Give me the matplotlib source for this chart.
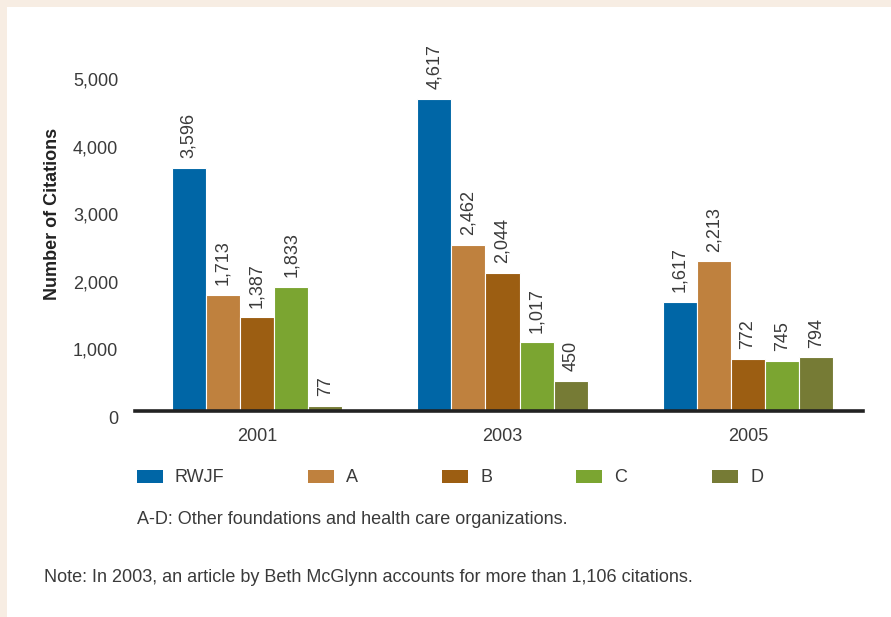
import matplotlib
matplotlib.use("Agg")
import matplotlib.pyplot as plt
from matplotlib.patches import Rectangle
from matplotlib.transforms import ScaledTranslation
import numpy as np

plt.rcParams['font.family'] = ['Liberation Sans', 'DejaVu Sans']

years = ["2001", "2003", "2005"]
series = ["RWJF", "A", "B", "C", "D"]
values = {
    "RWJF": [3596, 4617, 1617],
    "A": [1713, 2462, 2213],
    "B": [1387, 2044, 772],
    "C": [1833, 1017, 745],
    "D": [77, 450, 794],
}
colors = ["#0066A6", "#BF813E", "#9C5E12", "#7BA531", "#767B35"]
yticks = [0, 1000, 2000, 3000, 4000, 5000]
footnote1 = "A-D: Other foundations and health care organizations."
footnote2 = "Note: In 2003, an article by Beth McGlynn accounts for more than 1,106 citations."

W, H = 891, 617
TXT = "#3a3a3a"
FS = 13
fig = plt.figure(figsize=(W / 100, H / 100), dpi=100)
fig.patch.set_facecolor("white")

# peach border on top and left
border = "#F7EDE3"
fig.add_artist(Rectangle((0, 1 - 7 / H), 1, 7 / H, transform=fig.transFigure,
                         facecolor=border, edgecolor="none", zorder=0))
fig.add_artist(Rectangle((0, 0), 7 / W, 1, transform=fig.transFigure,
                         facecolor=border, edgecolor="none", zorder=0))

def fx(px):
    return px / W

def fy(py):
    return 1 - py / H

ax = fig.add_axes([fx(135), fy(411), fx(863) - fx(135), (411 - 73) / H])
x = np.arange(len(years))
step = 0.139
for i, (name, col) in enumerate(zip(series, colors)):
    pos = x + (i - 2) * step
    bars = ax.bar(pos, values[name], width=step, color=col, edgecolor="white",
                  linewidth=0.8, zorder=2)
    for b, v in zip(bars, values[name]):
        ax.annotate(f"{v:,}", (b.get_x() + b.get_width() / 2, v),
                    xytext=(0, 7), textcoords="offset points", rotation=90,
                    ha="center", va="bottom", fontsize=FS, color=TXT,
                    annotation_clip=False)

ax.set_xlim(-0.497, 2.468)
ax.set_ylim(0, 5000)
for s in ["top", "right", "left"]:
    ax.spines[s].set_visible(False)
ax.spines["bottom"].set_linewidth(2.6)
ax.spines["bottom"].set_color("#222222")
ax.spines["bottom"].set_zorder(3)
ax.set_xticks(x)
ax.set_xticklabels(years, fontsize=FS, color=TXT)
ax.tick_params(axis="x", length=0, pad=12)
ax.set_yticks(yticks)
ax.set_yticklabels([f"{t:,}" for t in yticks], fontsize=FS, color=TXT)
ax.tick_params(axis="y", length=0, pad=12)
off = ScaledTranslation(0, -6 / 100, fig.dpi_scale_trans)
for lab in ax.get_yticklabels():
    lab.set_transform(lab.get_transform() + off)

fig.text(fx(53), fy(214), "Number of Citations", rotation=90, ha="center",
         va="center", fontsize=FS, fontweight="bold", color="#222222")

# legend
leg_x = [137, 308, 442, 576, 712]
for lx, name, col in zip(leg_x, series, colors):
    fig.add_artist(Rectangle((fx(lx), fy(483)), 26 / W, 13 / H,
                             transform=fig.transFigure, facecolor=col,
                             edgecolor="none"))
    fig.text(fx(lx + 38), fy(477), name, ha="left", va="center",
             fontsize=FS, color=TXT)

fig.text(fx(137), fy(520), footnote1, ha="left", va="center",
         fontsize=FS, color=TXT)
fig.text(fx(44), fy(577), footnote2, ha="left", va="center",
         fontsize=FS, color=TXT)

fig.savefig("out.png", dpi=100, facecolor=fig.get_facecolor())
